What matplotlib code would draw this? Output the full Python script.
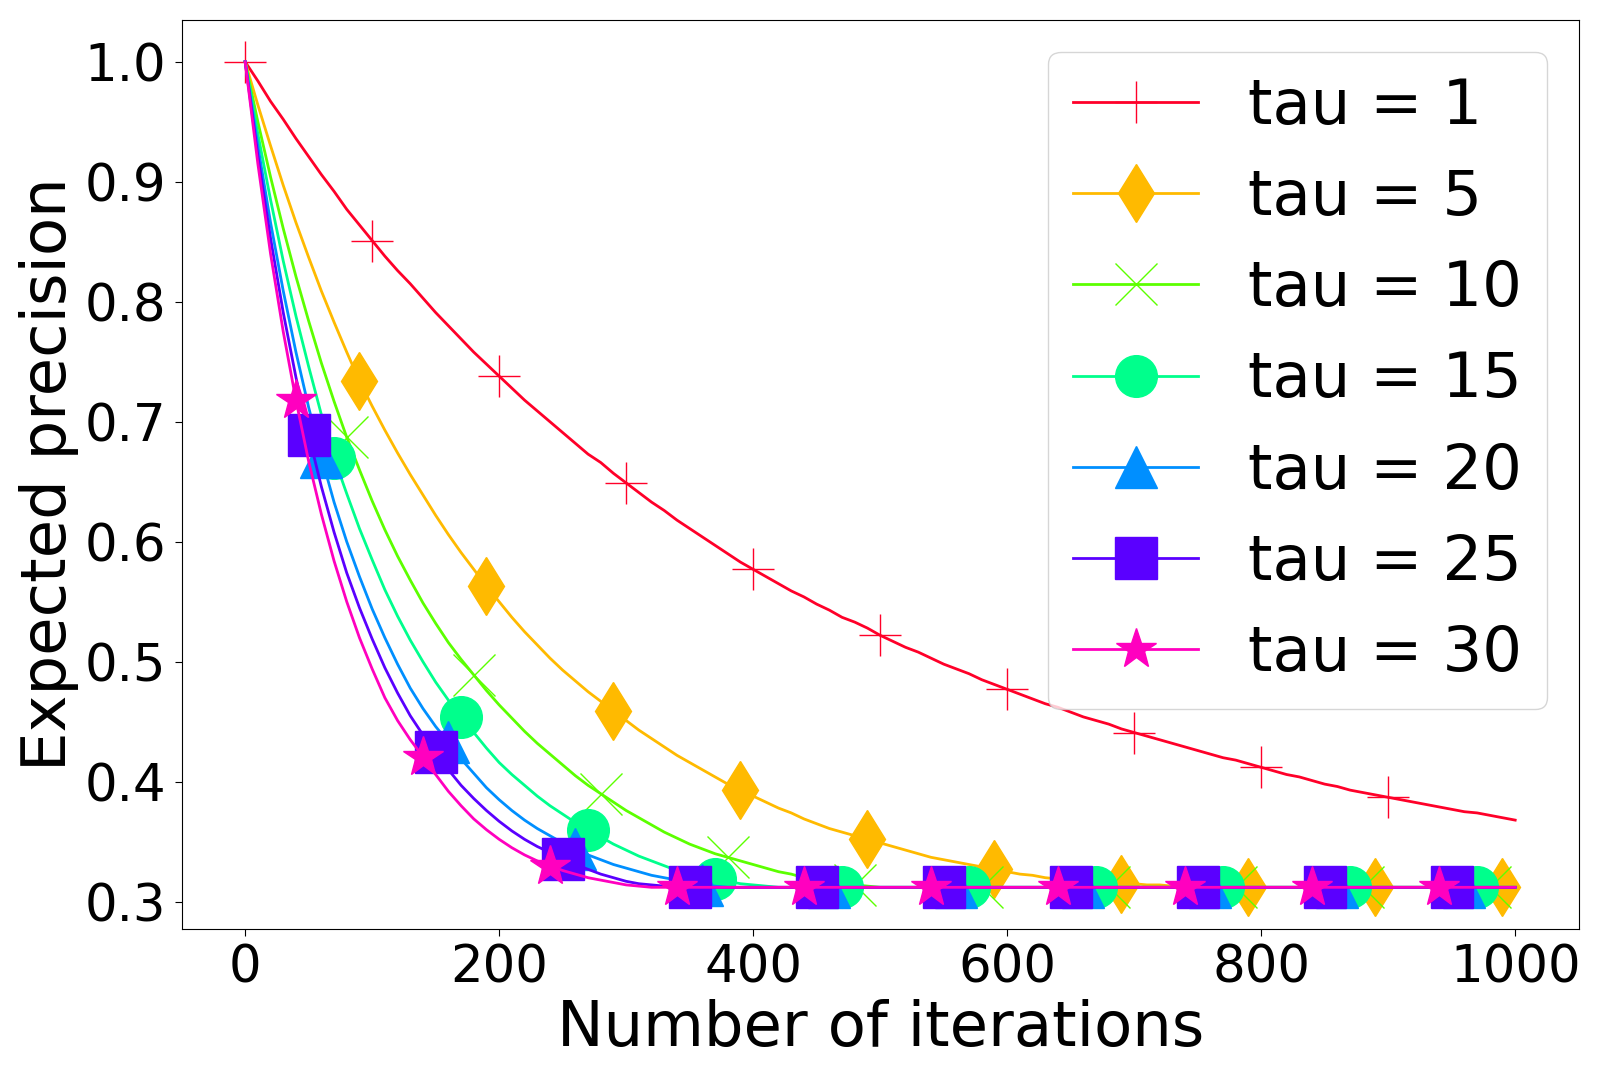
import numpy as np
import matplotlib
matplotlib.use('Agg')
import matplotlib.pyplot as plt

# number of iterations (one point every 10 iterations)
iterations = list(range(0, 1001, 10))

# expected precision, one list per tau
prec_tau1 = [1.000, 0.984, 0.967, 0.952, 0.936, 0.921, 0.906, 0.892, 0.877, 0.864,
             0.851, 0.838, 0.826, 0.815, 0.803, 0.791, 0.780, 0.769, 0.758, 0.748,
             0.738, 0.728, 0.718, 0.709, 0.700, 0.691, 0.682, 0.673, 0.666, 0.657,
             0.649, 0.641, 0.633, 0.626, 0.618, 0.611, 0.604, 0.597, 0.590, 0.583,
             0.577, 0.571, 0.565, 0.559, 0.554, 0.548, 0.543, 0.537, 0.533, 0.528,
             0.522, 0.517, 0.512, 0.508, 0.503, 0.498, 0.494, 0.490, 0.485, 0.481,
             0.477, 0.473, 0.469, 0.465, 0.462, 0.458, 0.454, 0.451, 0.448, 0.444,
             0.441, 0.438, 0.435, 0.432, 0.429, 0.426, 0.423, 0.420, 0.418, 0.415,
             0.412, 0.409, 0.406, 0.404, 0.401, 0.398, 0.396, 0.393, 0.391, 0.389,
             0.387, 0.385, 0.383, 0.381, 0.379, 0.377, 0.375, 0.374, 0.372, 0.370,
             0.368]
prec_tau5 = [1.000, 0.964, 0.930, 0.897, 0.866, 0.837, 0.809, 0.783, 0.758, 0.734,
             0.713, 0.693, 0.674, 0.656, 0.639, 0.622, 0.606, 0.591, 0.577, 0.563,
             0.550, 0.537, 0.525, 0.514, 0.503, 0.493, 0.484, 0.475, 0.467, 0.459,
             0.451, 0.443, 0.436, 0.429, 0.422, 0.416, 0.410, 0.404, 0.398, 0.393,
             0.388, 0.383, 0.378, 0.374, 0.369, 0.365, 0.361, 0.358, 0.355, 0.352,
             0.349, 0.346, 0.343, 0.340, 0.337, 0.335, 0.333, 0.331, 0.329, 0.327,
             0.325, 0.323, 0.322, 0.320, 0.319, 0.318, 0.317, 0.316, 0.316, 0.315,
             0.315, 0.314, 0.314, 0.313, 0.313, 0.313, 0.312, 0.312, 0.312, 0.312,
             0.312, 0.312, 0.312, 0.312, 0.312, 0.312, 0.312, 0.312, 0.312, 0.312,
             0.312, 0.312, 0.312, 0.312, 0.312, 0.312, 0.312, 0.312, 0.312, 0.312,
             0.312]
prec_tau10 = [1.000, 0.950, 0.904, 0.861, 0.821, 0.784, 0.749, 0.717, 0.687, 0.660,
              0.634, 0.610, 0.588, 0.568, 0.549, 0.532, 0.516, 0.502, 0.489, 0.476,
              0.464, 0.453, 0.442, 0.432, 0.423, 0.414, 0.405, 0.397, 0.390, 0.383,
              0.376, 0.370, 0.364, 0.358, 0.353, 0.348, 0.344, 0.340, 0.337, 0.334,
              0.331, 0.328, 0.325, 0.323, 0.320, 0.318, 0.316, 0.315, 0.314, 0.313,
              0.312, 0.312, 0.312, 0.312, 0.312, 0.312, 0.312, 0.312, 0.312, 0.312,
              0.312, 0.312, 0.312, 0.312, 0.312, 0.312, 0.312, 0.312, 0.312, 0.312,
              0.312, 0.312, 0.312, 0.312, 0.312, 0.312, 0.312, 0.312, 0.312, 0.312,
              0.312, 0.312, 0.312, 0.312, 0.312, 0.312, 0.312, 0.312, 0.312, 0.312,
              0.312, 0.312, 0.312, 0.312, 0.312, 0.312, 0.312, 0.312, 0.312, 0.312,
              0.312]
prec_tau15 = [1.000, 0.940, 0.885, 0.834, 0.788, 0.746, 0.706, 0.670, 0.640, 0.611,
              0.585, 0.560, 0.538, 0.518, 0.500, 0.483, 0.468, 0.454, 0.441, 0.428,
              0.416, 0.406, 0.397, 0.388, 0.380, 0.373, 0.366, 0.360, 0.354, 0.348,
              0.343, 0.338, 0.334, 0.330, 0.326, 0.323, 0.321, 0.319, 0.317, 0.315,
              0.314, 0.313, 0.312, 0.312, 0.312, 0.312, 0.312, 0.312, 0.312, 0.312,
              0.312, 0.312, 0.312, 0.312, 0.312, 0.312, 0.312, 0.312, 0.312, 0.312,
              0.312, 0.312, 0.312, 0.312, 0.312, 0.312, 0.312, 0.312, 0.312, 0.312,
              0.312, 0.312, 0.312, 0.312, 0.312, 0.312, 0.312, 0.312, 0.312, 0.312,
              0.312, 0.312, 0.312, 0.312, 0.312, 0.312, 0.312, 0.312, 0.312, 0.312,
              0.312, 0.312, 0.312, 0.312, 0.312, 0.312, 0.312, 0.312, 0.312, 0.312,
              0.312]
prec_tau20 = [1.000, 0.930, 0.866, 0.809, 0.758, 0.712, 0.671, 0.633, 0.600, 0.571,
              0.544, 0.520, 0.498, 0.478, 0.461, 0.446, 0.433, 0.419, 0.407, 0.395,
              0.385, 0.376, 0.368, 0.361, 0.355, 0.349, 0.344, 0.339, 0.335, 0.331,
              0.328, 0.325, 0.322, 0.320, 0.318, 0.316, 0.314, 0.313, 0.312, 0.312,
              0.312, 0.312, 0.312, 0.312, 0.312, 0.312, 0.312, 0.312, 0.312, 0.312,
              0.312, 0.312, 0.312, 0.312, 0.312, 0.312, 0.312, 0.312, 0.312, 0.312,
              0.312, 0.312, 0.312, 0.312, 0.312, 0.312, 0.312, 0.312, 0.312, 0.312,
              0.312, 0.312, 0.312, 0.312, 0.312, 0.312, 0.312, 0.312, 0.312, 0.312,
              0.312, 0.312, 0.312, 0.312, 0.312, 0.312, 0.312, 0.312, 0.312, 0.312,
              0.312, 0.312, 0.312, 0.312, 0.312, 0.312, 0.312, 0.312, 0.312, 0.312,
              0.312]
prec_tau25 = [1.000, 0.922, 0.853, 0.791, 0.737, 0.689, 0.646, 0.608, 0.574, 0.545,
              0.519, 0.495, 0.474, 0.455, 0.439, 0.425, 0.410, 0.397, 0.386, 0.376,
              0.367, 0.359, 0.352, 0.346, 0.341, 0.336, 0.331, 0.327, 0.323, 0.320,
              0.317, 0.315, 0.314, 0.313, 0.312, 0.312, 0.312, 0.312, 0.312, 0.312,
              0.312, 0.312, 0.312, 0.312, 0.312, 0.312, 0.312, 0.312, 0.312, 0.312,
              0.312, 0.312, 0.312, 0.312, 0.312, 0.312, 0.312, 0.312, 0.312, 0.312,
              0.312, 0.312, 0.312, 0.312, 0.312, 0.312, 0.312, 0.312, 0.312, 0.312,
              0.312, 0.312, 0.312, 0.312, 0.312, 0.312, 0.312, 0.312, 0.312, 0.312,
              0.312, 0.312, 0.312, 0.312, 0.312, 0.312, 0.312, 0.312, 0.312, 0.312,
              0.312, 0.312, 0.312, 0.312, 0.312, 0.312, 0.312, 0.312, 0.312, 0.312,
              0.312]
prec_tau30 = [1.000, 0.915, 0.840, 0.775, 0.718, 0.667, 0.623, 0.584, 0.550, 0.520,
              0.494, 0.470, 0.451, 0.435, 0.421, 0.406, 0.392, 0.380, 0.369, 0.360,
              0.352, 0.345, 0.339, 0.334, 0.330, 0.326, 0.323, 0.320, 0.318, 0.316,
              0.314, 0.313, 0.312, 0.312, 0.312, 0.312, 0.312, 0.312, 0.312, 0.312,
              0.312, 0.312, 0.312, 0.312, 0.312, 0.312, 0.312, 0.312, 0.312, 0.312,
              0.312, 0.312, 0.312, 0.312, 0.312, 0.312, 0.312, 0.312, 0.312, 0.312,
              0.312, 0.312, 0.312, 0.312, 0.312, 0.312, 0.312, 0.312, 0.312, 0.312,
              0.312, 0.312, 0.312, 0.312, 0.312, 0.312, 0.312, 0.312, 0.312, 0.312,
              0.312, 0.312, 0.312, 0.312, 0.312, 0.312, 0.312, 0.312, 0.312, 0.312,
              0.312, 0.312, 0.312, 0.312, 0.312, 0.312, 0.312, 0.312, 0.312, 0.312,
              0.312]

labels = ['tau = 1', 'tau = 5', 'tau = 10', 'tau = 15', 'tau = 20', 'tau = 25', 'tau = 30']
series = [prec_tau1, prec_tau5, prec_tau10, prec_tau15, prec_tau20, prec_tau25, prec_tau30]

markers = ['+', 'd', 'x', 'o', '^', 's', '*']
mark_start = [0, 9, 8, 7, 6, 5, 4]
colors = plt.cm.gist_rainbow(np.linspace(0, 1, 7))

fig = plt.figure(figsize=(15.99, 10.78), dpi=100)
ax = fig.add_axes([0.1136, 0.1386, 0.8737, 0.8424])

for ys, lab, m, s, c in zip(series, labels, markers, mark_start, colors):
    ax.plot(iterations, ys, color=c, marker=m, markersize=30,
            markevery=slice(s, 100, 10), linewidth=2, label=lab)

ax.set_xlabel('Number of iterations', fontsize=45)
ax.set_ylabel('Expected precision', fontsize=45)
ax.tick_params(labelsize=37, length=5, pad=6)
ax.legend(fontsize=45, loc='upper right')

fig.savefig('out.png', dpi=100)
